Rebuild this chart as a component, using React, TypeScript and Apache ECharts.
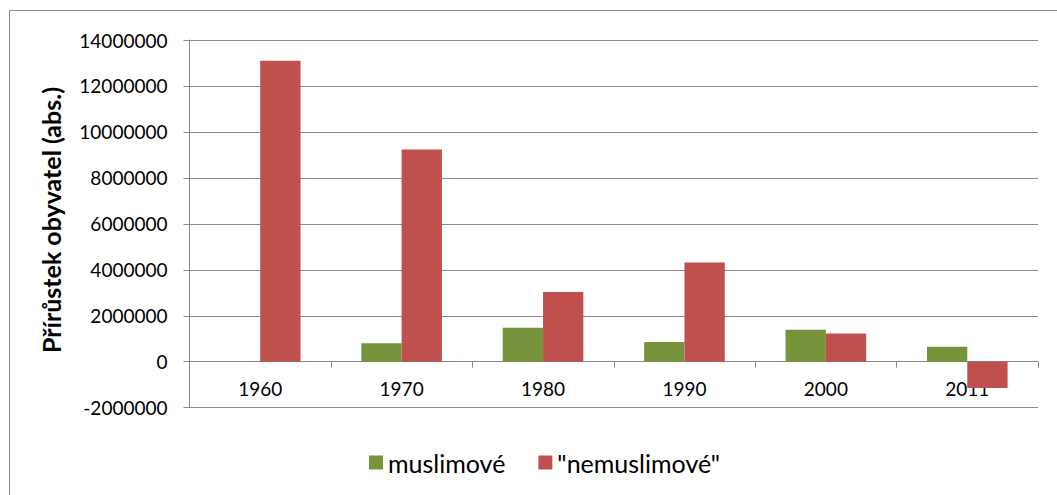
import React, { useEffect, useRef } from "react";
import * as echarts from "echarts";

const categories = ["1960", "1970", "1980", "1990", "2000", "2011"];
const muslimove: (number | null)[] = [null, 800000, 1480000, 860000, 1390000, 650000];
const nemuslimove = [13100000, 9230000, 3030000, 4320000, 1230000, -1140000];
const seriesNames = ["muslimové", "\"nemuslimové\""];
const axisTitle = "Přírůstek obyvatel (abs.)";

const FONT = "Lato";

export default function App() {
  const ref = useRef<HTMLDivElement>(null);
  useEffect(() => {
    if (!ref.current) return;
    const chart = echarts.init(ref.current, undefined, { renderer: "svg" });
    chart.setOption({
      animation: false,
      backgroundColor: "#ffffff",
      textStyle: { fontFamily: FONT },
      grid: { left: 189.5, right: 19, top: 40, bottom: 87.3, containLabel: false },
      graphic: [
        {
          type: "rect",
          z: -10,
          shape: { x: 9.5, y: 10.5, width: 1200, height: 700 },
          style: { fill: "none", stroke: "#8c8c8c", lineWidth: 1 },
          silent: true,
        },
        {
          type: "text",
          x: 51,
          y: 220,
          rotation: Math.PI / 2,
          style: {
            text: axisTitle,
            fontFamily: FONT,
            fontWeight: "bold",
            fontSize: 25,
            fill: "#000",
            align: "center",
            verticalAlign: "middle",
          },
        },
      ],
      legend: {
        data: seriesNames,
        left: 364,
        top: 445,
        icon: "rect",
        itemWidth: 14,
        itemHeight: 14,
        itemGap: 33,
        textStyle: { fontFamily: FONT, fontSize: 25, color: "#000" },
      },
      xAxis: [
        {
          type: "category",
          data: categories,
          axisLine: { onZero: true, lineStyle: { color: "#888", width: 1 } },
          axisTick: { show: true, length: 6, interval: 0, lineStyle: { color: "#888" } },
          axisLabel: { show: false },
          splitLine: { show: false },
        },
        {
          type: "category",
          data: categories,
          position: "bottom",
          offset: -46,
          axisLine: { show: false, onZero: false },
          axisTick: { show: false },
          axisLabel: { color: "#000", fontSize: 19, fontFamily: FONT, margin: 17 },
          splitLine: { show: false },
        },
      ],
      yAxis: {
        type: "value",
        min: -2000000,
        max: 14000000,
        interval: 2000000,
        axisLine: { show: true, lineStyle: { color: "#888", width: 1 } },
        axisTick: { show: true, length: 6, lineStyle: { color: "#888" } },
        axisLabel: {
          color: "#000",
          fontSize: 19,
          fontFamily: FONT,
          margin: 22,
          formatter: (v: number) => String(v),
        },
        splitLine: { show: true, lineStyle: { color: "#8a8a8a", width: 1 } },
      },
      series: [
        {
          name: seriesNames[0],
          type: "bar",
          xAxisIndex: 0,
          data: muslimove,
          itemStyle: { color: "#77933C" },
          barGap: "0%",
          barCategoryGap: "43%",
        },
        {
          name: seriesNames[1],
          type: "bar",
          xAxisIndex: 0,
          data: nemuslimove,
          itemStyle: { color: "#C0504D" },
          barGap: "0%",
          barCategoryGap: "43%",
        },
      ],
    });
    return () => chart.dispose();
  }, []);
  return (
    <div
      ref={ref}
      style={{ position: "absolute", left: 0, top: 0, width: 1057, height: 495 }}
    />
  );
}
